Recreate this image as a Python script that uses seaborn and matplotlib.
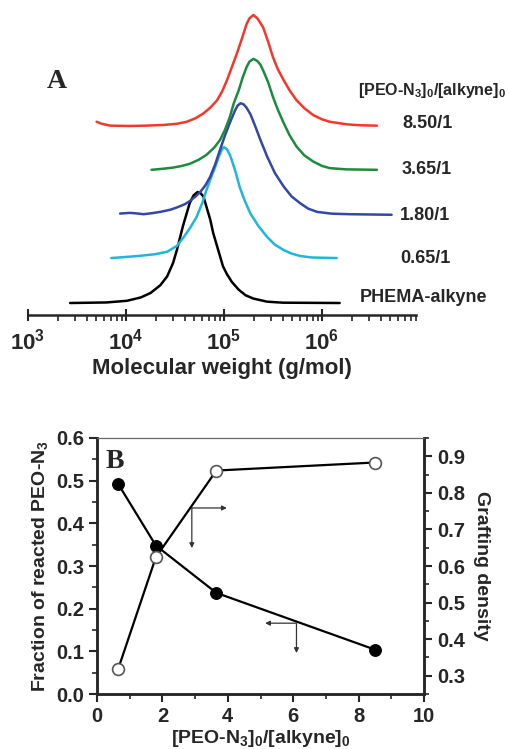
import numpy as np
import pandas as pd
import matplotlib
matplotlib.use("Agg")
import matplotlib.pyplot as plt
from matplotlib.ticker import LogLocator, NullFormatter, MultipleLocator, FixedLocator
import seaborn as sns

sns.set_style("ticks")
plt.rcParams['font.family'] = ['Liberation Sans', 'DejaVu Sans']
plt.rcParams['font.weight'] = 'bold'
plt.rcParams['mathtext.fontset'] = 'custom'
plt.rcParams['mathtext.rm'] = 'Liberation Sans:bold'
plt.rcParams['mathtext.it'] = 'Liberation Sans:bold'
plt.rcParams['mathtext.bf'] = 'Liberation Sans:bold'
plt.rcParams['mathtext.default'] = 'rm'

# ------------------------------------------------------
# Panel A: GPC traces (log10 M, normalised intensity)
# ------------------------------------------------------
logm_phema = [3.43, 3.80, 4.01, 4.15, 4.25, 4.35, 4.42, 4.48, 4.52, 4.58, 4.65, 4.69, 4.73, 4.76, 4.79,
              4.82, 4.86, 4.89, 4.93, 4.99, 5.03, 5.08, 5.15, 5.22, 5.30, 5.44, 5.60, 6.18]
int_phema = [0.0, 0.005, 0.02, 0.05, 0.09, 0.16, 0.24, 0.36, 0.48, 0.69, 0.90, 0.97, 1.0, 0.99, 0.96,
             0.87, 0.75, 0.63, 0.51, 0.33, 0.26, 0.19, 0.12, 0.07, 0.04, 0.012, 0.003, 0.0]

logm_065 = [3.85, 4.00, 4.14, 4.30, 4.42, 4.52, 4.59, 4.66, 4.72, 4.78, 4.82, 4.87, 4.91, 4.95, 4.98, 5.00,
            5.03, 5.06, 5.08, 5.12, 5.16, 5.21, 5.27, 5.35, 5.44, 5.52, 5.61, 5.69, 5.78, 5.90, 6.15]
int_065 = [0.0, 0.01, 0.02, 0.035, 0.057, 0.11, 0.19, 0.28, 0.37, 0.50, 0.61, 0.73, 0.82, 0.92, 0.98, 1.0,
           0.98, 0.93, 0.88, 0.77, 0.64, 0.52, 0.40, 0.29, 0.19, 0.12, 0.072, 0.04, 0.018, 0.005, 0.0]

logm_180 = [3.94, 4.04, 4.10, 4.18, 4.27, 4.35, 4.45, 4.52, 4.60, 4.65, 4.71, 4.76, 4.81, 4.86, 4.91, 4.96,
            5.01, 5.06, 5.11, 5.14, 5.17, 5.20, 5.23, 5.27, 5.32, 5.37, 5.44, 5.52, 5.61, 5.69, 5.78, 5.86,
            5.95, 6.10, 6.29, 6.71]
int_180 = [0.006, 0.012, 0.008, 0.0, 0.01, 0.021, 0.04, 0.061, 0.09, 0.118, 0.16, 0.203, 0.26, 0.339, 0.45, 0.582,
           0.71, 0.824, 0.93, 0.98, 1.0, 0.99, 0.96, 0.90, 0.79, 0.673, 0.52, 0.37, 0.248, 0.16, 0.097, 0.05,
           0.021, 0.005, 0.0, -0.005]

logm_365 = [4.26, 4.38, 4.48, 4.57, 4.65, 4.74, 4.82, 4.90, 4.96, 5.01, 5.06, 5.10, 5.15, 5.19, 5.23, 5.26,
            5.30, 5.34, 5.37, 5.40, 5.45, 5.50, 5.55, 5.61, 5.67, 5.74, 5.82, 5.91, 6.00, 6.08, 6.25, 6.56]
int_365 = [0.0, 0.01, 0.02, 0.035, 0.054, 0.09, 0.134, 0.20, 0.269, 0.36, 0.477, 0.60, 0.716, 0.83, 0.925, 0.975,
           1.0, 0.98, 0.95, 0.895, 0.79, 0.656, 0.54, 0.42, 0.31, 0.21, 0.13, 0.075, 0.035, 0.015, 0.004, 0.0]

logm_850 = [3.70, 3.75, 3.84, 4.04, 4.20, 4.38, 4.52, 4.62, 4.71, 4.79, 4.86, 4.93, 4.98, 5.03, 5.08, 5.13,
            5.18, 5.23, 5.26, 5.30, 5.34, 5.37, 5.40, 5.45, 5.50, 5.55, 5.61, 5.67, 5.74, 5.82, 5.91, 6.00,
            6.08, 6.25, 6.40, 6.56]
int_850 = [0.038, 0.02, 0.003, 0.0, 0.003, 0.009, 0.02, 0.038, 0.07, 0.113, 0.165, 0.232, 0.31, 0.411, 0.53, 0.649,
           0.78, 0.917, 0.97, 1.0, 0.97, 0.93, 0.887, 0.76, 0.619, 0.51, 0.411, 0.32, 0.232, 0.16, 0.098, 0.06,
           0.038, 0.015, 0.006, 0.003]

trace_names = ["PHEMA-alkyne", "0.65/1", "1.80/1", "3.65/1", "8.50/1"]
trace_logm = [logm_phema, logm_065, logm_180, logm_365, logm_850]
trace_int = [int_phema, int_065, int_180, int_365, int_850]
trace_offsets = [0.0, 0.405, 0.80, 1.20, 1.595]
trace_colors = ["black", "#1EB6DD", "#3347A6", "#1B8C3E", "#F5372B"]

decades = [3, 4, 5, 6]

# ------------------------------------------------------
# Panel B: fraction reacted and grafting density
# ------------------------------------------------------
ratio = [0.65, 1.80, 3.65, 8.50]
fraction_reacted = [0.492, 0.348, 0.237, 0.104]
grafting_density = [0.319, 0.624, 0.861, 0.883]

fig = plt.figure(figsize=(5.1, 7.49), dpi=100)
W, H = 510, 749

def fx(px):
    return px / W

def fy(py):
    return 1 - py / H

# ---------------- Panel A ----------------
axA = fig.add_axes([fx(28), fy(315), fx(416 - 28), (315 - 5) / H])
for name, lm, it, off, col in zip(trace_names, trace_logm, trace_int, trace_offsets, trace_colors):
    df = pd.DataFrame({"M": 10 ** np.array(lm), "I": np.array(it) + off})
    sns.lineplot(data=df, x="M", y="I", ax=axA, color=col, lw=1.8, sort=False, estimator=None,
                 solid_joinstyle="round", solid_capstyle="round")

axA.set_xscale("log")
axA.set_xlim(1e3, 10 ** (3 + 388 / 98))
axA.set_ylim(-0.108, 2.685)
for s in ["left", "right", "top"]:
    axA.spines[s].set_visible(False)
axA.spines["bottom"].set_linewidth(1.8)
axA.set_yticks([])
axA.set_ylabel("")
axA.xaxis.set_major_locator(FixedLocator([10.0 ** d for d in decades]))
axA.set_xticklabels([f"$10^{{{d}}}$" for d in decades])
axA.xaxis.set_minor_locator(LogLocator(base=10, subs=np.arange(2, 10), numticks=20))
axA.xaxis.set_minor_formatter(NullFormatter())
axA.tick_params(axis="x", which="major", direction="inout", length=9, width=1.5, labelsize=16, pad=5)
axA.tick_params(axis="x", which="minor", direction="out", length=4, width=1.2)
axA.set_xlabel("Molecular weight (g/mol)", fontsize=16, fontweight="bold", labelpad=3)

fig.text(fx(57), fy(82), "A", family="Liberation Serif", fontsize=20, fontweight="bold", ha="center", va="center")
fig.text(fx(358), fy(90), r"[PEO-N$_3$]$_0$/[alkyne]$_0$", fontsize=11.5, fontweight="bold", ha="left", va="center")
label_pos = {"8.50/1": (402, 123), "3.65/1": (402, 169), "1.80/1": (400, 215),
             "0.65/1": (400, 259), "PHEMA-alkyne": (360, 298)}
for txt, (px, py) in label_pos.items():
    fig.text(fx(px), fy(py), txt, fontsize=13, fontweight="bold", ha="left", va="center")

# ---------------- Panel B ----------------
axB = fig.add_axes([fx(97), fy(694), fx(424 - 97), (694 - 438) / H])
axB2 = axB.twinx()

dfB = pd.DataFrame({"ratio": ratio, "frac": fraction_reacted, "graft": grafting_density})
sns.lineplot(data=dfB, x="ratio", y="frac", ax=axB, color="black", lw=1.6, marker="o",
             markersize=8.5, markerfacecolor="black", markeredgecolor="black")
sns.lineplot(data=dfB, x="ratio", y="graft", ax=axB2, color="black", lw=1.6, marker="o",
             markersize=8.5, markerfacecolor="white", markeredgecolor="#555555", markeredgewidth=1.2)

axB.set_xlim(0, 10)
axB.set_ylim(0, 0.6)
axB2.set_ylim(0.25, 0.95)
axB.xaxis.set_major_locator(MultipleLocator(2))
axB.xaxis.set_minor_locator(MultipleLocator(1))
axB.yaxis.set_major_locator(MultipleLocator(0.1))
axB.yaxis.set_minor_locator(MultipleLocator(0.05))
axB2.set_yticks([0.3, 0.4, 0.5, 0.6, 0.7, 0.8, 0.9])
axB2.yaxis.set_minor_locator(MultipleLocator(0.05))

for ax in (axB, axB2):
    for s in ["left", "right", "bottom"]:
        ax.spines[s].set_linewidth(1.8)
    ax.spines["top"].set_linewidth(0.8)
    ax.spines["top"].set_color("#666666")
    ax.tick_params(which="major", direction="out", length=6, width=1.5, labelsize=14.5)
    ax.tick_params(which="minor", direction="out", length=3.5, width=1.2)

axB.set_xticks(axB.get_xticks())
axB.set_xticklabels([f"{int(v)}" for v in axB.get_xticks()])
axB.set_yticks(axB.get_yticks())
axB.set_yticklabels([f"{v:.1f}" for v in axB.get_yticks()])
axB.set_xlim(0, 10)
axB.set_ylim(0, 0.6)
axB2.set_yticklabels([f"{v:.1f}" for v in axB2.get_yticks()])

axB.set_xlabel(r"[PEO-N$_3$]$_0$/[alkyne]$_0$", fontsize=14, fontweight="bold", labelpad=1)
axB.set_ylabel(r"Fraction of reacted PEO-N$_3$", fontsize=14, fontweight="bold", labelpad=4)
axB2.set_ylabel("Grafting density", fontsize=14, fontweight="bold", rotation=270, labelpad=18)

axB.text(0.055, 0.91, "B", transform=axB.transAxes, family="Liberation Serif",
         fontsize=20, fontweight="bold", ha="center", va="center")

arrow_kw = dict(arrowstyle="-|>", color="#333333", lw=0.9, mutation_scale=7, shrinkA=0, shrinkB=0)
axB.annotate("", xy=(3.97, 0.436), xytext=(2.9, 0.436), arrowprops=arrow_kw)
axB.annotate("", xy=(2.9, 0.342), xytext=(2.9, 0.436), arrowprops=arrow_kw)
axB.annotate("", xy=(5.14, 0.166), xytext=(6.1, 0.166), arrowprops=arrow_kw)
axB.annotate("", xy=(6.1, 0.096), xytext=(6.1, 0.166), arrowprops=arrow_kw)

fig.savefig("out.png", dpi=100)
